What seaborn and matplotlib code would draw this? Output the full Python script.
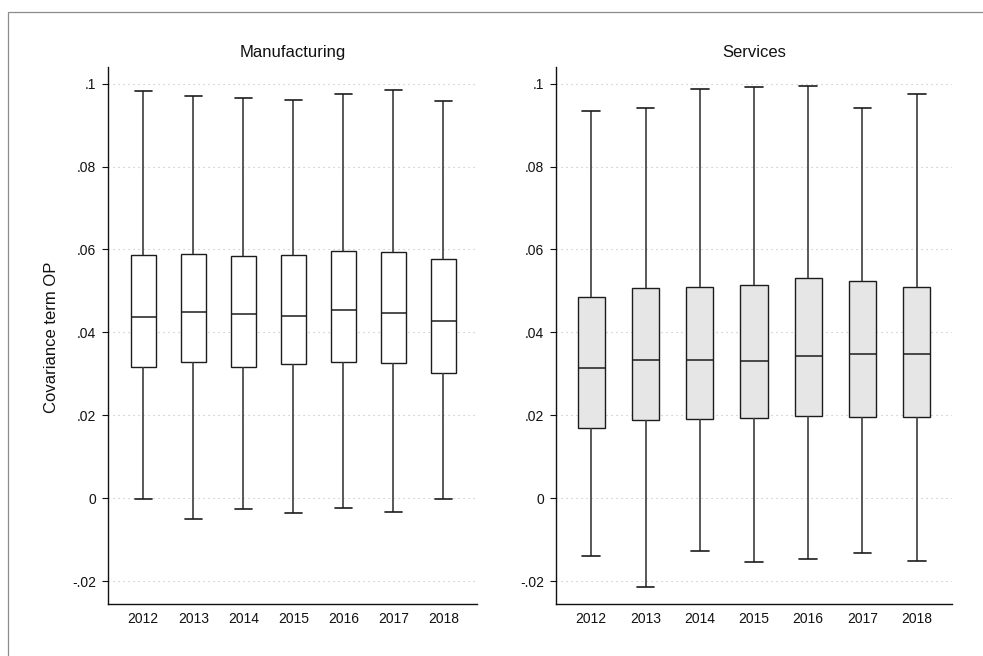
import numpy as np
import pandas as pd
import matplotlib
matplotlib.use("Agg")
import matplotlib.pyplot as plt
from matplotlib.patches import Rectangle
import seaborn as sns

# Five-number summaries of the OP covariance term by year
years = ["2012", "2013", "2014", "2015", "2016", "2017", "2018"]

manu_min = [-0.0001, -0.0049, -0.0025, -0.0035, -0.0024, -0.0034, -0.0001]
manu_q1 = [0.0316, 0.0329, 0.0317, 0.0324, 0.0329, 0.0325, 0.0302]
manu_med = [0.0438, 0.0450, 0.0445, 0.0440, 0.0455, 0.0447, 0.0428]
manu_q3 = [0.0586, 0.0588, 0.0584, 0.0586, 0.0597, 0.0593, 0.0576]
manu_max = [0.0982, 0.0971, 0.0965, 0.0961, 0.0976, 0.0985, 0.0958]

serv_min = [-0.0140, -0.0215, -0.0127, -0.0153, -0.0147, -0.0133, -0.0152]
serv_q1 = [0.0170, 0.0188, 0.0190, 0.0194, 0.0199, 0.0197, 0.0195]
serv_med = [0.0313, 0.0334, 0.0334, 0.0332, 0.0343, 0.0348, 0.0348]
serv_q3 = [0.0485, 0.0508, 0.0509, 0.0515, 0.0530, 0.0524, 0.0509]
serv_max = [0.0935, 0.0941, 0.0986, 0.0991, 0.0994, 0.0942, 0.0975]

ytick_vals = [-0.02, 0.0, 0.02, 0.04, 0.06, 0.08, 0.1]
ytick_labels = ["-.02", "0", ".02", ".04", ".06", ".08", ".1"]


def summary_frame(mins, q1s, meds, q3s, maxs):
    # Each year contributes its five summary points; with whiskers at the
    # 0th/100th percentile the box statistics reproduce them exactly.
    rows = []
    for yr, a, b, c, d, e in zip(years, mins, q1s, meds, q3s, maxs):
        for v in (a, b, c, d, e):
            rows.append({"year": yr, "value": v})
    return pd.DataFrame(rows)


manu_df = summary_frame(manu_min, manu_q1, manu_med, manu_q3, manu_max)
serv_df = summary_frame(serv_min, serv_q1, serv_med, serv_q3, serv_max)

sns.set_theme(style="white")
plt.rcParams["font.family"] = ["Liberation Sans", "DejaVu Sans"]

fig = plt.figure(figsize=(9.83, 6.56), dpi=100)
W, H = 983, 656

ax_m = fig.add_axes([108 / W, 1 - 604 / H, 369 / W, 537 / H])
ax_s = fig.add_axes([556 / W, 1 - 604 / H, 396 / W, 537 / H])

line_col = "#1c1c1c"
whisk_col = "#3c3c3c"

panels = [
    (ax_m, manu_df, "Manufacturing", "white", (-0.706, 6.674)),
    (ax_s, serv_df, "Services", "#e6e6e6", (-0.651, 6.651)),
]

for ax, df, title, fill, xlim in panels:
    ax.set_axisbelow(True)
    ax.yaxis.grid(True, linestyle=(0, (1, 3.5)), color="#bdbdbd", linewidth=0.8)
    ax.xaxis.grid(False)
    sns.boxplot(
        data=df, x="year", y="value", order=years, ax=ax,
        whis=(0, 100), width=0.5, color=fill, saturation=1,
        linecolor=line_col, linewidth=1.0, showfliers=False,
        capwidths=0.33,
        whiskerprops=dict(color=whisk_col, linewidth=1.2),
        capprops=dict(color=line_col, linewidth=1.2),
        medianprops=dict(color=line_col, linewidth=1.1),
    )
    for patch in ax.patches:
        patch.set_facecolor(fill)
    ax.set_xlim(*xlim)
    ax.set_ylim(-0.0255, 0.104)
    ax.set_yticks(ytick_vals)
    ax.set_yticklabels(ytick_labels)
    ax.set_xlabel("")
    ax.set_ylabel("")
    ax.set_title(title, fontsize=12, pad=7, color="#111111")
    for side in ("top", "right"):
        ax.spines[side].set_visible(False)
    for side in ("left", "bottom"):
        ax.spines[side].set_color("#111111")
        ax.spines[side].set_linewidth(1.0)
    ax.tick_params(axis="x", length=0, pad=5.5, labelsize=10, colors="#111111")
    ax.tick_params(axis="y", length=4.6, width=0.8, pad=3.8, labelsize=10,
                   colors="#111111", left=True)

fig.text(51.7 / W, 1 - 337 / H, "Covariance term OP", rotation=90,
         ha="center", va="center", fontsize=12, color="#111111")

# Outer graph-region outline
fig.patches.append(Rectangle((8 / W, -0.2), 1.2, 1.2 - 12 / H + 0.0,
                             transform=fig.transFigure, fill=False,
                             edgecolor="#8c8c8c", linewidth=0.9))

fig.savefig("out.png", dpi=100, facecolor="white")
